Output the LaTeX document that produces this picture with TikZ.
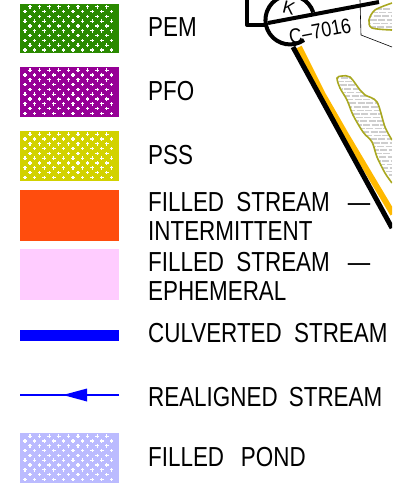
\documentclass[tikz,border=0pt]{standalone}
\usepackage{fontspec}
\setmainfont{Liberation Sans}
\definecolor{cGreen}{HTML}{2A8A00}
\definecolor{cPurple}{HTML}{960096}
\definecolor{cYellow}{HTML}{D2D200}
\definecolor{cOrange}{HTML}{FF4D0D}
\definecolor{cPink}{HTML}{FFCCFF}
\definecolor{cPond}{HTML}{BBBBFF}
\definecolor{cRoad}{HTML}{FFB900}
\definecolor{cOlive}{HTML}{A9A820}
\definecolor{cBrick}{HTML}{CECECE}
\newcommand{\hatchswatch}[3]{%
  \fill[#2] (20,#1) rectangle (119,#1+49.5);
  \foreach \r in {0,...,4}{%
    \foreach \c in {0,...,9}{%
      \pgfmathsetmacro{\py}{#1+3.2+\r*9.6}
      \pgfmathsetmacro{\ax}{30+\c*9.6}
      \pgfmathsetmacro{\bx}{25+\c*9.6}
      \ifnum\c<9
      \fill[#3] (\ax-1.8,\py-.6) rectangle (\ax+1.8,\py+.6);
      \fill[#3] (\ax-.6,\py-1.8) rectangle (\ax+.6,\py+1.8);
      \fi
      \fill[#3] (\bx-1.8,\py-.6+4.8) rectangle (\bx+1.8,\py+.6+4.8);
      \fill[#3] (\bx-.6,\py-1.8+4.8) rectangle (\bx+.6,\py+1.8+4.8);
    }
  }
}
\tikzset{
  legend/.style={anchor=base west,inner sep=0pt,font=\fontsize{27.5}{27.5}\selectfont,xscale=.815,transform shape},
  swatch/.style={minimum width=99pt,inner sep=0pt,anchor=north west,draw=none},
  mapline/.style={line join=round,line cap=butt},
  wetland/.style={draw=cOlive,line width=1.6pt,line join=round},
  brick/.style={cBrick,line width=1.7pt},
}
\begin{document}
\begin{tikzpicture}[x=1pt,y=-1pt]
\useasboundingbox (0,0) rectangle (392,483);
\fill[white] (0,0) rectangle (392,483);
% swatches
\hatchswatch{3.5}{cGreen}{white}
\hatchswatch{67}{cPurple}{white}
\hatchswatch{131}{cYellow}{white}
\hatchswatch{433}{cPond}{white}
\node[swatch,fill=cOrange,minimum height=51pt] (orange) at (20,190) {};
\node[swatch,fill=cPink,minimum height=51pt] (pink) at (20,249) {};
\node[swatch,fill=blue,minimum height=11pt] (culvert) at (20,330) {};
% realigned stream
\coordinate (rsR) at (119,395);
\coordinate (rsL) at (20,395);
\coordinate (rsT) at (63,395);
\draw[blue,line width=1.5pt] (rsR) -- (rsL);
\fill[blue] (rsT) -- (87,388.5) -- (87,401.5) -- cycle;
% labels
\node[legend] (t1) at (148,36) {PEM};
\node[legend] (t2) at (148,100) {PFO};
\node[legend] (t3) at (148,164) {PSS};
\node[legend] (t4) at (148,211) {FILLED\hspace{.55em}STREAM\hspace{.8em}—};
\node[legend] (t5) at (148,240) {INTERMITTENT};
\node[legend] (t6) at (148,271) {FILLED\hspace{.55em}STREAM\hspace{.8em}—};
\node[legend] (t7) at (148,300) {EPHEMERAL};
\node[legend] (t8) at (148,342) {CULVERTED\hspace{.55em}STREAM};
\node[legend] (t9) at (148,406) {REALIGNED\hspace{.5em}STREAM};
\node[legend] (t10) at (148,466) {FILLED\hspace{.75em}POND};
% map fragment
\begin{scope}
\clip (232,0) rectangle (392,483);
\draw[black,line width=.6pt] (360,0) -- (361,35) -- (392,47);
% wetlands
\begin{scope}
\clip (392,3) -- (375,10) -- (369,20) -- (372,28) -- (392,30) -- cycle;
\foreach \yy/\ph in {9/0,12.6/4,16.2/1,19.8/5,23.4/2,27/6}{\draw[brick,dash pattern=on 7pt off 1.5pt,dash phase=\ph] (366,\yy) -- (392,\yy);}
\end{scope}
\draw[wetland] plot[smooth,tension=.5] coordinates {(392,3) (375,10) (369,20) (372,28) (392,30)};
\begin{scope}
\clip (337,78) -- (342,76) -- (350,77) -- (360,90) -- (365,95) -- (377,102) -- (385,127) -- (392,140) -- (392,183) -- (385,173) -- (377,157) -- (372,142) -- (363,132) -- (353,115) -- (347,100) -- cycle;
\foreach \yy/\ph in {78/0,81.6/4,85.2/1,88.8/5,92.4/2,96/6,99.6/3,103.2/0,106.8/4,110.4/1,114/5,117.6/2,121.2/6,124.8/3,128.4/0,132/4,135.6/1,139.2/5,142.8/2,146.4/6,150/3,153.6/0,157.2/4,160.8/1,164.4/5,168/2,171.6/6,175.2/3,178.8/0,182.4/4}{\draw[brick,dash pattern=on 7pt off 1.5pt,dash phase=\ph] (332,\yy) -- (392,\yy);}
\end{scope}
\draw[wetland] plot[smooth,tension=.5] coordinates {(392,140) (385,127) (377,102) (365,95) (360,90) (350,77) (342,76) (337,78) (340,88) (347,100) (353,115) (363,132) (372,142) (377,157) (385,173) (392,183)};
% road edge and black line
\draw[cRoad,line width=6pt,mapline] (299,47) -- (312,73) -- (323,95) -- (346,135) -- (393,214);
\draw[black,line width=5pt,mapline] (293,47) -- (392,228);
% section symbol
\draw[black,line width=4pt,mapline] (247,0) -- (247,25) -- (265,25);
\draw[black,line width=4pt,mapline] (304,40) arc[start angle=55,end angle=342,radius=24.5];
\draw[black,line width=4pt,mapline] (268,23) -- (379,2);
\node[inner sep=0pt,rotate=-14,font=\fontsize{18}{18}\selectfont] (k) at (289,8) {K};
\node[inner sep=0pt,rotate=11,font=\fontsize{21}{21}\selectfont,xscale=.85,transform shape] (sec) at (320,31) {C–7016};
\end{scope}
\end{tikzpicture}
\end{document}
